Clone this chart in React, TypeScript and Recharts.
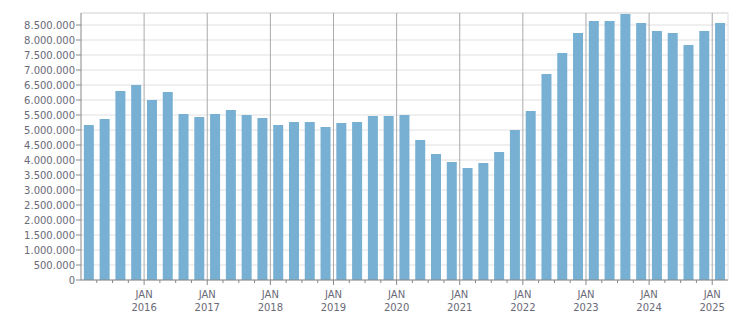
import React from 'react';
import { BarChart, Bar, XAxis, YAxis, CartesianGrid, ReferenceLine } from 'recharts';

const quarters = [
  '2015 Q1', '2015 Q2', '2015 Q3', '2015 Q4',
  '2016 Q1', '2016 Q2', '2016 Q3', '2016 Q4',
  '2017 Q1', '2017 Q2', '2017 Q3', '2017 Q4',
  '2018 Q1', '2018 Q2', '2018 Q3', '2018 Q4',
  '2019 Q1', '2019 Q2', '2019 Q3', '2019 Q4',
  '2020 Q1', '2020 Q2', '2020 Q3', '2020 Q4',
  '2021 Q1', '2021 Q2', '2021 Q3', '2021 Q4',
  '2022 Q1', '2022 Q2', '2022 Q3', '2022 Q4',
  '2023 Q1', '2023 Q2', '2023 Q3', '2023 Q4',
  '2024 Q1', '2024 Q2', '2024 Q3', '2024 Q4',
  '2025 Q1',
];

const values = [
  5170000, 5370000, 6300000, 6500000,
  6000000, 6270000, 5530000, 5430000,
  5530000, 5670000, 5500000, 5400000,
  5170000, 5270000, 5270000, 5100000,
  5230000, 5270000, 5470000, 5470000,
  5500000, 4670000, 4200000, 3930000,
  3730000, 3900000, 4270000, 5000000,
  5630000, 6870000, 7570000, 8230000,
  8630000, 8630000, 8870000, 8570000,
  8300000, 8230000, 7830000, 8300000,
  8570000,
];

const yTicks = [
  0, 500000, 1000000, 1500000, 2000000, 2500000, 3000000, 3500000, 4000000,
  4500000, 5000000, 5500000, 6000000, 6500000, 7000000, 7500000, 8000000, 8500000,
];
const yMax = 8900000;
const monthLabel = 'JAN';

const data = quarters.map((q, i) => ({ q, pos: i + 0.5, value: values[i] }));
const boundaryTicks = [...quarters.map((_, i) => i), quarters.length];
const yearBoundaries = quarters
  .map((q, i) => ({ q, i }))
  .filter((d) => d.i > 0 && d.q.endsWith('Q1'))
  .map((d) => d.i);

const fmt = (v: number) => String(v).replace(/\B(?=(\d{3})+(?!\d))/g, '.');

const textColor = '#6a6a78';

const BoundaryTick = (props: any) => {
  const { x, y, payload } = props;
  const idx = payload.value as number;
  if (idx <= 0 || idx >= quarters.length) return <g />;
  const isYear = quarters[idx].endsWith('Q1');
  return (
    <g>
      <line x1={x} x2={x} y1={y - 5} y2={isYear ? y : y - 2} stroke="#888" />
      {isYear && (
        <text x={x} y={y} textAnchor="middle" fill={textColor} fontSize={10}>
          <tspan x={x} dy={13}>{monthLabel}</tspan>
          <tspan x={x} dy={13}>{quarters[idx].slice(0, 4)}</tspan>
        </text>
      )}
    </g>
  );
};

export default function App() {
  return (
    <div style={{ position: 'absolute', left: 0, top: 0, fontFamily: 'Verdana, "DejaVu Sans", sans-serif' }}>
      <BarChart
        width={751}
        height={313}
        data={data}
        margin={{ top: 13, right: 23, left: 0, bottom: 0 }}
        barCategoryGap="18%"
      >
        <CartesianGrid xAxisId="num" vertical={false} stroke="#e0e0e0" />
        <XAxis xAxisId="cat" dataKey="q" hide orientation="top" height={0} />
        <XAxis
          xAxisId="num"
          dataKey="pos"
          type="number"
          domain={[0, quarters.length]}
          ticks={boundaryTicks}
          interval={0}
          height={33}
          tickSize={3}
          tickMargin={2}
          tickLine={false}
          axisLine={{ stroke: '#888' }}
          tick={<BoundaryTick />}
          allowDataOverflow
        />
        <YAxis
          width={81}
          domain={[0, yMax]}
          ticks={yTicks}
          interval={0}
          tickFormatter={fmt}
          tickSize={5}
          tickMargin={1}
          tick={{ fontSize: 10, fill: textColor }}
          tickLine={{ stroke: '#888' }}
          axisLine={{ stroke: '#888' }}
          allowDataOverflow
        />
        <ReferenceLine xAxisId="num" y={yMax} stroke="#e0e0e0" />
        <ReferenceLine xAxisId="num" x={quarters.length} stroke="#e0e0e0" />
        {yearBoundaries.map((b) => (
          <ReferenceLine key={b} xAxisId="num" x={b} stroke="#aaaaaa" />
        ))}
        <Bar xAxisId="cat" dataKey="value" fill="#77b0d2" isAnimationActive={false} />
      </BarChart>
    </div>
  );
}
